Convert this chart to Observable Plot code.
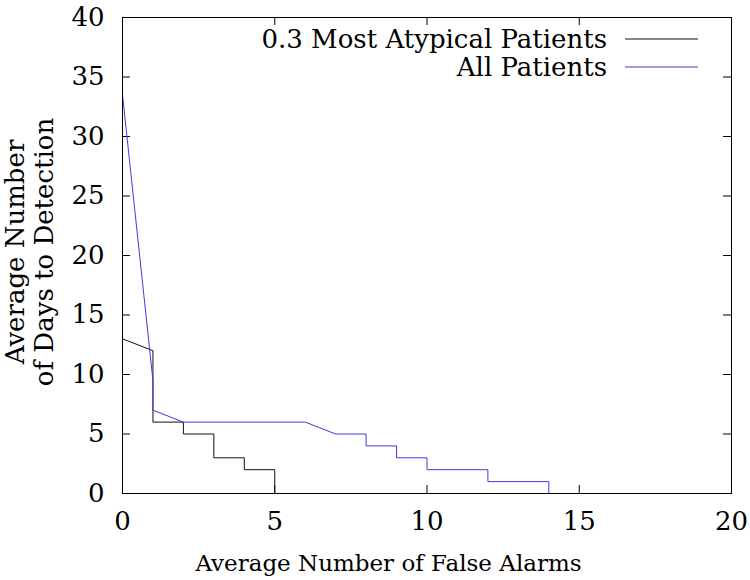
<!DOCTYPE html>
<html>
<head>
<meta charset="utf-8">
<script src="https://cdn.jsdelivr.net/npm/d3@7"></script>
<script src="https://cdn.jsdelivr.net/npm/@observablehq/plot@0.6"></script>
<style>
  html, body { margin: 0; padding: 0; background: white; }
  svg text { font-family: "DejaVu Serif", serif !important; }
</style>
</head>
<body>
<div id="chart"></div>
<script>
// Data
const xTicks = [0, 5, 10, 15, 20];
const yTicks = [0, 5, 10, 15, 20, 25, 30, 35, 40];

const seriesNames = ["0.3 Most Atypical Patients", "All Patients"];
const seriesColors = ["#111111", "#3c3cdc"];

const atypicalX = [0, 1, 1, 2, 2, 3, 3, 4, 4, 5, 5, 20];
const atypicalY = [13, 12, 6, 6, 5, 5, 3, 3, 2, 2, 0, 0];

const allX = [0, 1, 1, 2, 6, 7, 8, 8, 9, 9, 10, 10, 12, 12, 14, 14, 20];
const allY = [33.5, 9.5, 7, 6, 6, 5, 5, 4, 4, 3, 3, 2, 2, 1, 1, 0, 0];

const xLabel = "Average Number of False Alarms";
const yLabelLines = ["Average Number", "of Days to Detection"];

const atypical = atypicalX.map((x, i) => ({x, y: atypicalY[i]}));
const all = allX.map((x, i) => ({x, y: allY[i]}));

const W = 750, H = 580;
const mL = 122, mR = 19, mT = 17, mB = 87;
const innerW = W - mL - mR, innerH = H - mT - mB;
const FONT = "'DejaVu Serif', serif";
const FS = 26;      // tick labels

function legend(index, scales, values, dims) {
  const g = d3.create("svg:g");
  const right = dims.width - dims.marginRight;
  seriesNames.forEach((name, i) => {
    const y = dims.marginTop + 22 + i * 28;
    g.append("text")
      .attr("x", right - 124).attr("y", y + 9)
      .attr("text-anchor", "end")
      .attr("font-family", FONT)
      .attr("font-size", 26)
      .attr("fill", "black")
      .text(name);
    g.append("line")
      .attr("x1", right - 106).attr("x2", right - 33)
      .attr("y1", y).attr("y2", y)
      .attr("stroke", seriesColors[i])
      .attr("stroke-width", 1);
  });
  return g.node();
}

function titles(index, scales, values, dims) {
  const g = d3.create("svg:g").attr("fill", "black").attr("font-family", FONT);
  const cy = dims.marginTop + (dims.height - dims.marginTop - dims.marginBottom) / 2 - 3;
  // x-axis title
  g.append("text")
    .attr("x", dims.marginLeft - 38 + (dims.width - dims.marginLeft - dims.marginRight) / 2)
    .attr("y", dims.height - 9)
    .attr("text-anchor", "middle")
    .attr("font-size", 23)
    .text(xLabel);
  // y-axis title, two rotated lines
  yLabelLines.forEach((line, i) => {
    g.append("text")
      .attr("transform", `translate(${dims.marginLeft - 98 + i * 29},${cy}) rotate(-90)`)
      .attr("text-anchor", "middle")
      .attr("font-size", 26)
      .text(line);
  });
  return g.node();
}

const chart = Plot.plot({
  width: W, height: H,
  marginLeft: mL, marginRight: mR, marginTop: mT, marginBottom: mB,
  style: {fontFamily: FONT, fontSize: FS + "px", background: "white", color: "black"},
  x: {domain: [0, 20]},
  y: {domain: [0, 40]},
  marks: [
    Plot.axisX(xTicks, {tickSize: 0, tickPadding: 18, label: null, fontSize: FS}),
    Plot.axisY(yTicks, {tickSize: 0, tickPadding: 18, label: null, fontSize: FS}),
    // inward ticks on all four sides
    Plot.tickX(xTicks, {x: d => d, insetTop: innerH - 8, stroke: "black"}),
    Plot.tickX(xTicks, {x: d => d, insetBottom: innerH - 8, stroke: "black"}),
    Plot.tickY(yTicks, {y: d => d, insetRight: innerW - 8, stroke: "black"}),
    Plot.tickY(yTicks, {y: d => d, insetLeft: innerW - 8, stroke: "black"}),
    Plot.line(atypical, {x: "x", y: "y", stroke: seriesColors[0], strokeWidth: 1}),
    Plot.line(all, {x: "x", y: "y", stroke: seriesColors[1], strokeWidth: 1}),
    Plot.frame({stroke: "black", strokeWidth: 1}),
    titles,
    legend
  ]
});
document.getElementById("chart").appendChild(chart);
</script>
</body>
</html>
